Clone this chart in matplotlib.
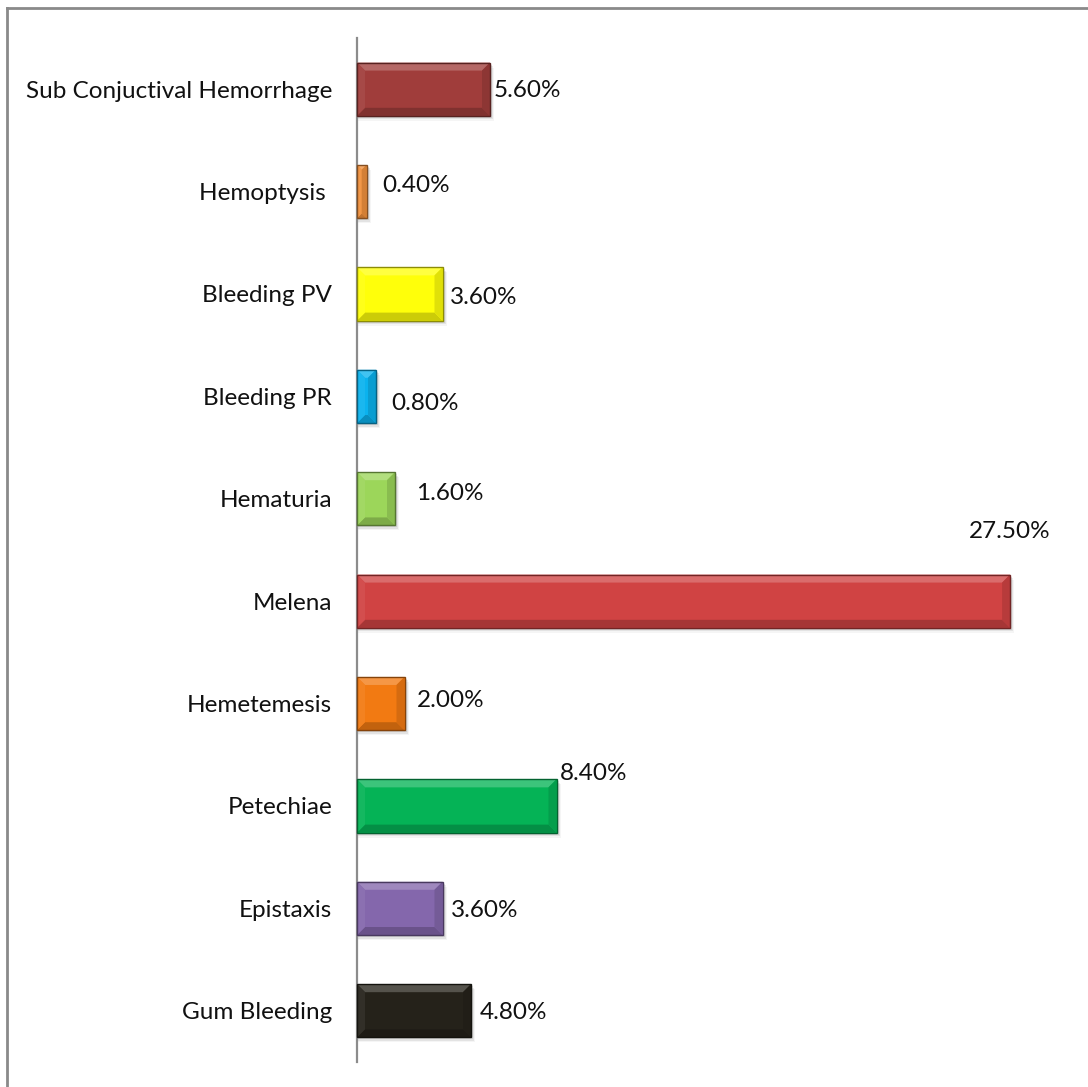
import matplotlib
matplotlib.use("Agg")
import matplotlib.pyplot as plt
from matplotlib.patches import Polygon, Rectangle
from matplotlib.colors import to_rgb
import numpy as np

# Bleeding manifestations (percent of patients), bottom to top
categories = ["Gum Bleeding", "Epistaxis", "Petechiae", "Hemetemesis", "Melena",
              "Hematuria", "Bleeding PR", "Bleeding PV", "Hemoptysis ",
              "Sub Conjuctival Hemorrhage"]
values = [4.8, 3.6, 8.4, 2.0, 27.5, 1.6, 0.8, 3.6, 0.4, 5.6]
value_labels = ["4.80%", "3.60%", "8.40%", "2.00%", "27.50%", "1.60%", "0.80%",
                "3.60%", "0.40%", "5.60%"]
colors = ["#25221A", "#8467AC", "#05B356", "#F27A12", "#D04343", "#9CD65A",
          "#0BB2EE", "#FFFF0A", "#F0903C", "#A03D3B"]

# label offsets in pixels from the bar end (dx, dy)
label_offsets = [(9, -2), (8, -2), (3, 32), (12, 3), (None, None), (21, 5),
                 (15, -7), (7, -3), (16, 6), (4, -1)]

W, H = 1088, 1087
fig = plt.figure(figsize=(W / 100, H / 100), dpi=100)
fig.patch.set_facecolor("white")

# outer frame (left and top edges visible)
fig.add_artist(plt.Line2D([6.5 / W, 6.5 / W], [0, 1 - 8 / H], transform=fig.transFigure,
                          color="#8a8a8a", lw=2))
fig.add_artist(plt.Line2D([6.5 / W, 1], [1 - 8 / H, 1 - 8 / H], transform=fig.transFigure,
                          color="#8a8a8a", lw=2))

left, right, top, bottom = 357, 1069.5, 38, 1062
ax = fig.add_axes([left / W, 1 - bottom / H, (right - left) / W, (bottom - top) / H])
ax.patch.set_alpha(0)
ax.set_xlim(0, 30)
ax.set_ylim(-0.5, len(categories) - 0.5)

ypos = np.arange(len(categories))
bars = ax.barh(ypos, values, height=0.52, color=colors, zorder=3)

FONT = "Lato"
FS = 17.5
ax.set_yticks(ypos)
ax.set_yticklabels(categories, fontsize=FS, family=FONT, color="#111111")
ax.tick_params(axis="y", length=0, pad=18)
ax.set_xticks([])
for s in ["top", "right", "bottom"]:
    ax.spines[s].set_visible(False)
ax.spines["left"].set_color("#8c8c8c")
ax.spines["left"].set_linewidth(1.6)
ax.spines["left"].set_zorder(5)


def mix(c, t, amt):
    c = np.array(to_rgb(c))
    t = np.array(to_rgb(t))
    return tuple(c + (t - c) * amt)


fig.canvas.draw()
bev = 8
for bar, col in zip(bars, colors):
    x0, y0 = ax.transData.transform((bar.get_x(), bar.get_y()))
    x1, y1 = ax.transData.transform((bar.get_x() + bar.get_width(),
                                     bar.get_y() + bar.get_height()))
    w = x1 - x0
    b = min(bev, w / 2)
    # soft shadow beneath the bar
    for i, a in enumerate([0.10, 0.07, 0.04]):
        fig.add_artist(Rectangle((x0 + 1, y0 - 2 - i * 1.5), w + 1 + i, y1 - y0,
                                 transform=None, facecolor="black", alpha=a,
                                 edgecolor="none", zorder=-1))
    faces = [
        ([(x0, y1), (x1, y1), (x1 - b, y1 - b), (x0 + b, y1 - b)], mix(col, "white", 0.22)),
        ([(x0, y0), (x1, y0), (x1 - b, y0 + b), (x0 + b, y0 + b)], mix(col, "black", 0.20)),
        ([(x0, y0), (x0, y1), (x0 + b, y1 - b), (x0 + b, y0 + b)], mix(col, "white", 0.06)),
        ([(x1, y0), (x1, y1), (x1 - b, y1 - b), (x1 - b, y0 + b)], mix(col, "black", 0.12)),
    ]
    for pts, fc in faces:
        fig.add_artist(Polygon(pts, closed=True, transform=None, facecolor=fc,
                               edgecolor="none", zorder=4))
    fig.add_artist(Rectangle((x0, y0), w, y1 - y0, transform=None, facecolor="none",
                             edgecolor=mix(col, "black", 0.45), lw=1.0, zorder=5))

for i, (v, lab, off) in enumerate(zip(values, value_labels, label_offsets)):
    if off[0] is None:
        ax.annotate(lab, xy=(v, i), xytext=(0, 70), textcoords="offset pixels",
                    ha="center", va="center", fontsize=FS, family=FONT, color="#111111")
    else:
        ax.annotate(lab, xy=(v, i), xytext=off, textcoords="offset pixels",
                    ha="left", va="center", fontsize=FS, family=FONT, color="#111111")

fig.savefig("out.png", dpi=100, facecolor="white")
